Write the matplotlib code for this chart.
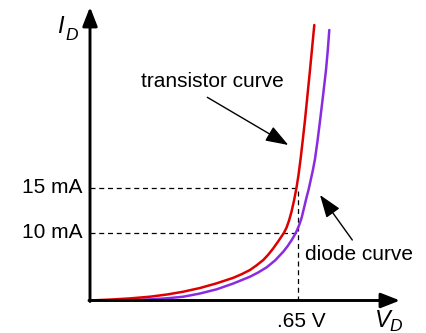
import matplotlib
matplotlib.use("Agg")
import matplotlib.pyplot as plt

plt.rcParams['font.family'] = ['Liberation Sans', 'DejaVu Sans']

# Schematic plot units (origin at the axes corner)
transistor_v = [0, 20, 40, 60, 77, 93.3, 110, 126.7, 143.3, 151.6, 160, 166.6, 173.3, 178.3, 183.3,
                188.6, 194, 196.5, 199, 201.5, 204, 206.5, 208.5, 210.7, 213, 215, 217.5, 220, 222.2, 224.3]
transistor_i = [0, 0.9, 2.1, 3.8, 6, 8.8, 12.5, 17.2, 22.7, 26.3, 30.5, 35.2, 40.5, 45.9, 52.2,
                59.7, 67.8, 72.8, 79.8, 88.8, 99.8, 112.8, 125.5, 142.5, 162.5, 180.5, 205.5, 230.5, 253.5, 275.5]
diode_v = [0, 20, 40, 60, 77, 93.3, 110, 126.7, 143.3, 160, 168.3, 176.7, 185, 193.3, 197.5, 201.7,
           204.2, 206.7, 209.2, 211.7, 214.2, 216.7, 218.5, 220.5, 222.8, 225, 227.5, 230, 233, 236, 237.8, 239.3]
diode_i = [0, 0.2, 0.5, 1.1, 2.2, 3.8, 7, 11.2, 17, 23.8, 28.1, 33.2, 40, 48.8, 54.2, 60.5,
           64.7, 69.5, 75.5, 83, 93.3, 103.8, 110.5, 119.5, 130, 141.5, 159.5, 179.5, 204.5, 230.5, 250.5, 270.5]

i_tick_pos = [67.8, 113.0]
i_tick_labels = ["10 mA", "15 mA"]
v_tick_pos = 207.5
v_tick_label = ".65 V"

W, H = 426, 333
ox, oy = 90, 300.5          # origin in pixels
x_end, y_end = 400, 7       # arrow tips in pixels

fig = plt.figure(figsize=(W / 100, H / 100), dpi=100)
ax = fig.add_axes([ox / W, (H - oy) / H, (x_end - ox) / W, (oy - y_end) / H])
ax.set_xlim(0, x_end - ox)
ax.set_ylim(0, oy - y_end)
ax.axis('off')

def px(x, y):
    return x - ox, oy - y

# curves
ax.plot(diode_v, diode_i, color='#8a2be2', lw=1.8, solid_capstyle='round',
        solid_joinstyle='round', zorder=3)
ax.plot(transistor_v, transistor_i, color='#dd0000', lw=1.8, solid_capstyle='round',
        solid_joinstyle='round', zorder=3)

# dashed guides
for yv in i_tick_pos:
    ax.plot([0, v_tick_pos], [yv, yv], color='black', lw=0.9, ls=(0, (4, 3)), zorder=2)
ax.plot([v_tick_pos, v_tick_pos], [0, max(i_tick_pos)], color='black', lw=0.9, ls=(0, (4, 3)), zorder=2)

# axes arrows
arrow_kw = dict(arrowstyle='-|>,head_length=1.15,head_width=0.45', mutation_scale=10,
                lw=2.1, color='black', shrinkA=0, shrinkB=0)
ax.annotate('', xy=(x_end - ox, 0), xytext=(-1, 0), arrowprops=arrow_kw, annotation_clip=False, zorder=4)
ax.annotate('', xy=(0, oy - y_end), xytext=(0, -1), arrowprops=arrow_kw, annotation_clip=False, zorder=4)

fs = 15
# tick labels
for yv, lab in zip(i_tick_pos, i_tick_labels):
    ax.text(-8, yv, lab, ha='right', va='center', fontsize=fs, clip_on=False)
tx, ty = px(301.7, 326.7)
ax.text(tx, ty, v_tick_label, ha='center', va='baseline', fontsize=fs, clip_on=False)

# axis labels
x, y = px(57, 33.3)
ax.text(x, y, 'I', fontsize=17, style='italic', ha='left', va='baseline', clip_on=False)
x, y = px(65, 40)
ax.text(x, y, 'D', fontsize=12.5, style='italic', ha='left', va='baseline', clip_on=False)
x, y = px(375, 326.7)
ax.text(x, y, 'V', fontsize=17, style='italic', ha='left', va='baseline', clip_on=False)
x, y = px(389, 331)
ax.text(x, y, 'D', fontsize=12.5, style='italic', ha='left', va='baseline', clip_on=False)

# annotations
note_kw = dict(arrowstyle='-|>,head_length=1.4,head_width=0.5', mutation_scale=10,
               lw=1.0, color='black', shrinkA=0, shrinkB=0)
ax.annotate('', xy=px(288.3, 145), xytext=px(207.3, 97.3), arrowprops=note_kw, annotation_clip=False)
ax.annotate('', xy=px(320, 195), xytext=px(352.3, 240), arrowprops=note_kw, annotation_clip=False)
x, y = px(212.5, 86.7)
ax.text(x, y, 'transistor curve', ha='center', va='baseline', fontsize=fs, clip_on=False)
x, y = px(358.8, 260)
ax.text(x, y, 'diode curve', ha='center', va='baseline', fontsize=fs, clip_on=False)

fig.savefig('out.png', dpi=100)
